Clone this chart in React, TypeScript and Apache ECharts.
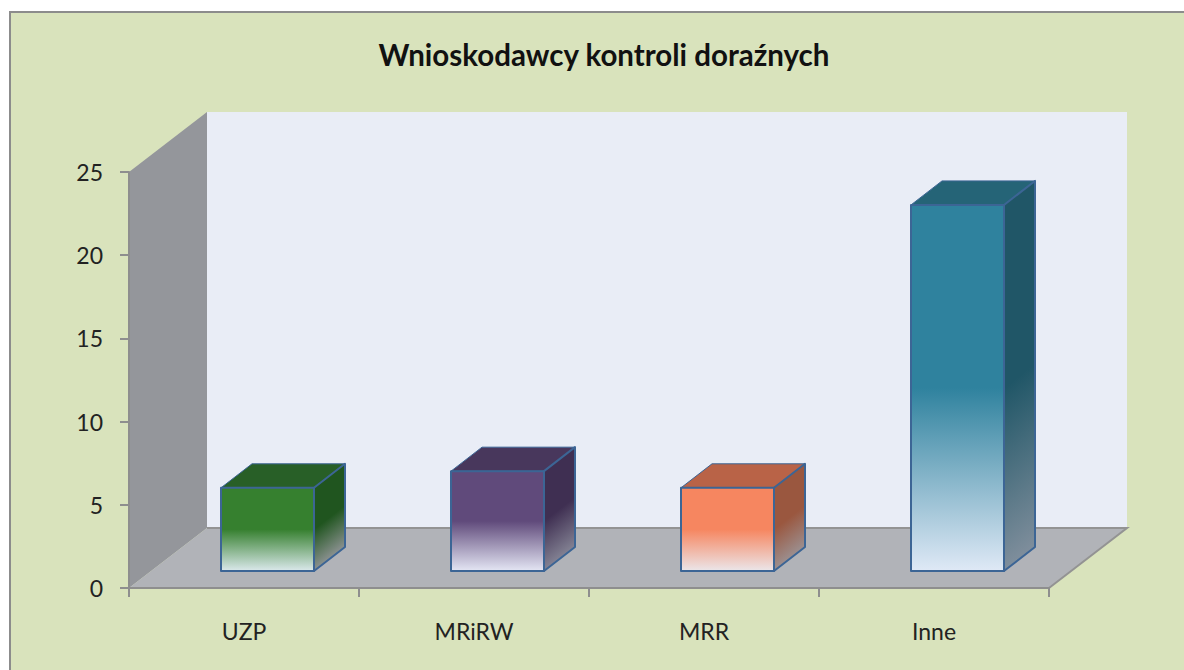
import React, { useEffect, useRef } from "react";
import * as echarts from "echarts";

const titleText = "Wnioskodawcy kontroli doraźnych";
const categories = ["UZP", "MRiRW", "MRR", "Inne"];
const values = [5, 6, 5, 22];
const yTicksMax = 25;
const yTickStep = 5;

const frontColors = ["#36802f", "#604a7b", "#f68660", "#2f829e"];
const frontLightColors = ["#dbe9ec", "#e4e6f4", "#ebe6ea", "#dfe9f6"];
const topColors = ["#285f27", "#48375c", "#b96347", "#256477"];
const sideColors = ["#20551f", "#3f2f52", "#9a573f", "#205667"];
const sideLightColors = ["#8b9190", "#838293", "#9c8f8f", "#7f8e9c"];

const WALL_DX = 78;
const WALL_DY = -60;
const BAR_RATIO = 93 / 230;
const BAR_SHIFT_X = 23.5;
const BAR_SHIFT_Y = -17;
const BAR_DX = 31;
const BAR_DY = -24;
const EDGE = "#3c6595";

const renderWalls = (params: any) => {
  const { x, y, width, height } = params.coordSys;
  const b = y + height;
  const poly = (points: number[][], fill: string, stroke?: string) => ({
    type: "polygon",
    shape: { points },
    style: { fill, stroke: stroke || "none", lineWidth: stroke ? 2 : 0 },
    silent: true,
  });
  return {
    type: "group",
    children: [
      poly(
        [[x + WALL_DX, y + WALL_DY], [x + width + WALL_DX, y + WALL_DY], [x + width + WALL_DX, b + WALL_DY], [x + WALL_DX, b + WALL_DY]],
        "#e9edf6"
      ),
      poly([[x, y], [x + WALL_DX, y + WALL_DY], [x + WALL_DX, b + WALL_DY], [x, b]], "#94969b"),
      poly([[x, b], [x + width, b], [x + width + WALL_DX, b + WALL_DY], [x + WALL_DX, b + WALL_DY]], "#b1b3b8"),
      {
        type: "polyline",
        shape: { points: [[x + WALL_DX, b + WALL_DY], [x + width + WALL_DX, b + WALL_DY], [x + width, b]] },
        style: { fill: "none", stroke: "#939393", lineWidth: 2 },
        silent: true,
      },
    ],
  };
};

const renderBar = (params: any, api: any) => {
  const i = params.dataIndex;
  const top = api.coord([api.value(0), api.value(1)]);
  const base = api.coord([api.value(0), 0]);
  const w = api.size([1, 0])[0] * BAR_RATIO;
  const l = top[0] + BAR_SHIFT_X - w / 2;
  const r = l + w;
  const t = top[1] + BAR_SHIFT_Y;
  const b = base[1] + BAR_SHIFT_Y;
  const h = b - t;
  const len = Math.hypot(BAR_DX, BAR_DY);
  const nx = -BAR_DY / len;
  const ny = BAR_DX / len;
  const gl = h * ny;
  const sx = r + BAR_DX;
  const sy = t + BAR_DY;
  const edge = { stroke: EDGE, lineWidth: 2, lineJoin: "round" };
  return {
    type: "group",
    children: [
      {
        type: "polygon",
        shape: { points: [[l, t], [r, t], [r + BAR_DX, t + BAR_DY], [l + BAR_DX, t + BAR_DY]] },
        style: { fill: topColors[i], stroke: EDGE, lineWidth: 1, opacity: 1, lineJoin: "round" },
      },
      {
        type: "polygon",
        shape: { points: [[r, t], [r + BAR_DX, t + BAR_DY], [r + BAR_DX, b + BAR_DY], [r, b]] },
        style: {
          fill: new echarts.graphic.LinearGradient(
            sx, sy, sx + nx * gl, sy + ny * gl,
            [
              { offset: 0, color: sideColors[i] },
              { offset: 0.5, color: sideColors[i] },
              { offset: 1, color: sideLightColors[i] },
            ],
            true
          ),
          ...edge,
        },
      },
      {
        type: "polygon",
        shape: { points: [[l, t], [r, t], [r, b], [l, b]] },
        style: {
          fill: new echarts.graphic.LinearGradient(0, 0, 0, 1, [
            { offset: 0, color: frontColors[i] },
            { offset: 0.5, color: frontColors[i] },
            { offset: 1, color: frontLightColors[i] },
          ]),
          ...edge,
        },
      },
    ],
  };
};

export default function App() {
  const ref = useRef<HTMLDivElement>(null);
  useEffect(() => {
    const chart = echarts.init(ref.current!, undefined, { renderer: "svg" });
    const font = "Lato, 'Open Sans', sans-serif";
    chart.setOption({
      animation: false,
      backgroundColor: "#ffffff",
      title: {
        text: titleText,
        left: 599,
        top: 34,
        textAlign: "center",
        textStyle: { fontFamily: font, fontWeight: "bold", fontSize: 29.5, color: "#111111" },
      },
      graphic: [
        {
          type: "rect",
          z: 0,
          shape: { x: 10, y: 12, width: 1200, height: 700 },
          style: { fill: "#d9e3bc", stroke: "#8c8c8c", lineWidth: 2 },
          silent: true,
        },
      ],
      grid: { left: 129, top: 172, width: 920, height: 416, containLabel: false },
      xAxis: {
        type: "category",
        data: categories,
        z: 5,
        axisLine: { lineStyle: { color: "#8e8e8e", width: 2 } },
        axisTick: { show: true, alignWithLabel: false, length: 9, lineStyle: { color: "#8e8e8e", width: 2 } },
        axisLabel: { margin: 31, fontFamily: font, fontSize: 23, color: "#222222" },
      },
      yAxis: {
        type: "value",
        min: 0,
        max: yTicksMax,
        interval: yTickStep,
        z: 5,
        splitLine: { show: false },
        axisLine: { show: true, lineStyle: { color: "#8e8e8e", width: 2 } },
        axisTick: { show: true, length: 9, lineStyle: { color: "#8e8e8e", width: 2 } },
        axisLabel: { margin: 26, fontFamily: font, fontSize: 23, color: "#222222" },
      },
      series: [
        { type: "custom", z: 1, silent: true, clip: false, renderItem: renderWalls, data: [[0, 0]], encode: { x: 0, y: 1 } },
        {
          type: "custom",
          z: 2,
          clip: false,
          renderItem: renderBar,
          data: values.map((v, i) => [i, v]),
          encode: { x: 0, y: 1 },
        },
      ],
    });
    return () => chart.dispose();
  }, []);
  return <div ref={ref} style={{ position: "fixed", left: 0, top: 0, width: 1184, height: 670 }} />;
}
